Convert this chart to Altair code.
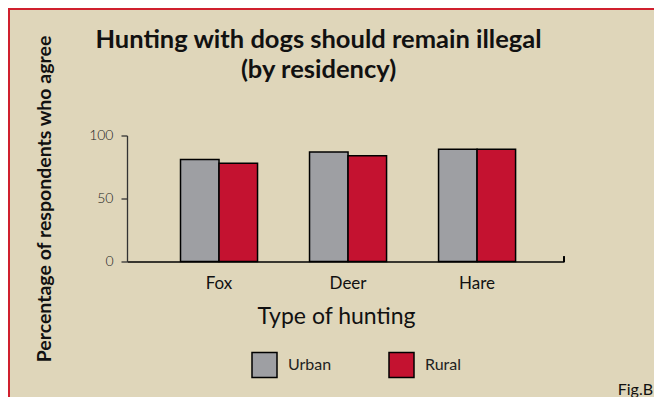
import altair as alt
import pandas as pd

hunts = ["Fox", "Deer", "Hare"]
residency = ["Urban", "Rural"]
urban_vals = [81, 87, 89]
rural_vals = [78, 84, 89]
y_ticks = [0, 50, 100]
title_lines = ["Hunting with dogs should remain illegal", "(by residency)"]

rows = []
for i, h in enumerate(hunts):
    rows.append({"hunt": h, "res": "Urban", "pct": urban_vals[i]})
    rows.append({"hunt": h, "res": "Rural", "pct": rural_vals[i]})
df = pd.DataFrame(rows)

FONT = "Lato"
GRAY = "#9e9fa3"
RED = "#c41230"
BG = "#dfd6ba"

bars = alt.Chart(df).mark_bar(stroke="black", strokeWidth=1.5).encode(
    x=alt.X("hunt:N", sort=hunts,
            scale=alt.Scale(paddingInner=0.403, paddingOuter=0.395, align=0.525),
            axis=alt.Axis(title="Type of hunting", labelAngle=0, ticks=False,
                          domainColor="black", domainWidth=1.3,
                          labelFont=FONT, labelFontSize=17, labelColor="#111",
                          labelPadding=14, titleFont=FONT, titleFontSize=23,
                          titleFontWeight="normal", titleColor="#111",
                          titleX=209, titleY=62, titleBaseline="alphabetic",
                          titleAlign="center")),
    xOffset=alt.XOffset("res:N", sort=residency,
                        scale=alt.Scale(paddingInner=0, paddingOuter=0)),
    y=alt.Y("pct:Q", scale=alt.Scale(domain=[0, 100]),
            axis=alt.Axis(title="Percentage of respondents who agree",
                          values=y_ticks, grid=False, domainColor="#333",
                          domainWidth=1.3, tickColor="#333", tickSize=6,
                          tickWidth=1.3, labelFont=FONT, labelFontSize=14,
                          labelFontWeight=300, labelColor="#222",
                          labelPadding=8, titleFont=FONT, titleFontSize=19.5,
                          titleFontWeight="bold", titleColor="#111",
                          titleX=-83, titleY=63, titleAlign="center",
                          titleBaseline="middle", titleAngle=270)),
    color=alt.Color("res:N", sort=residency,
                    scale=alt.Scale(domain=residency, range=[GRAY, RED]),
                    legend=alt.Legend(title=None, orient="none", legendX=124,
                                      legendY=216, direction="horizontal",
                                      symbolType="square", symbolSize=625,
                                      symbolStrokeColor="black",
                                      symbolStrokeWidth=1.5,
                                      labelFont=FONT, labelFontSize=16,
                                      labelColor="#222", labelOffset=10,
                                      columnPadding=54)),
)

end_tick = alt.Chart(df).mark_rule(color="black", strokeWidth=1.3).encode(
    x=alt.value(437), y=alt.value(121), y2=alt.value(126.5))

border_top = alt.Chart(df).mark_rule(color="#d0202e", strokeWidth=2).encode(
    x=alt.value(-119), x2=alt.value(527), y=alt.value(-126.5))
border_left = alt.Chart(df).mark_rule(color="#d0202e", strokeWidth=2).encode(
    x=alt.value(-118), y=alt.value(-127.5), y2=alt.value(262))

title1 = alt.Chart(pd.DataFrame({"t": [title_lines[0]]})).mark_text(
    font=FONT, fontSize=25.5, fontWeight="bold", align="center",
    baseline="alphabetic", color="#111"
).encode(text="t:N", x=alt.value(191.5), y=alt.value(-87.5))
title2 = alt.Chart(pd.DataFrame({"t": [title_lines[1]]})).mark_text(
    font=FONT, fontSize=25.5, fontWeight="bold", align="center",
    baseline="alphabetic", color="#111"
).encode(text="t:N", x=alt.value(191.5), y=alt.value(-57.5))

figb = alt.Chart(pd.DataFrame({"t": ["Fig.B"]})).mark_text(
    font=FONT, fontSize=16, align="right", baseline="alphabetic", color="#111"
).encode(text="t:N", x=alt.value(526), y=alt.value(259.5))

chart = alt.layer(border_top, border_left, title1, title2, bars, end_tick,
                  figb).properties(
    width=437, height=126,
    padding={"left": 119, "top": 127.5, "right": 90, "bottom": 135.5},
    autosize=alt.AutoSizeParams(type="none"),
    background=BG,
).configure_view(stroke=None)

chart.save("out.html", embed_options={"renderer": "svg", "actions": False})
